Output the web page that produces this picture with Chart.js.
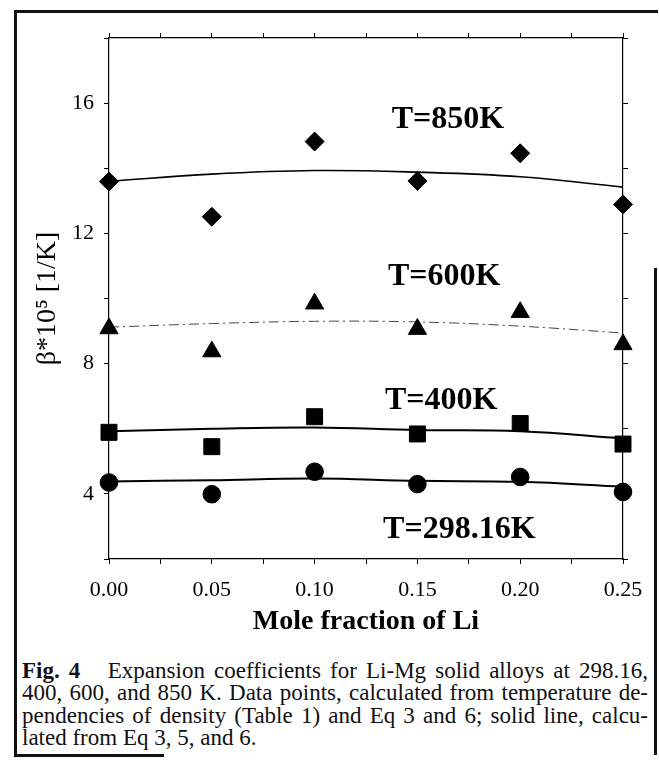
<!DOCTYPE html>
<html>
<head>
<meta charset="utf-8">
<script src="https://cdn.jsdelivr.net/npm/chart.js@4.4.1/dist/chart.umd.min.js"></script>
<style>
  body { margin: 0; background: #fff; }
  #wrap { position: relative; width: 659px; height: 761px; overflow: hidden; }
  .bar { position: absolute; background: #111; }
  #plot { position: absolute; left: 0; top: 0; }
  #caption { position: absolute; left: 22px; top: 660px; width: 626px;
    font-family: "Liberation Serif", "Times New Roman", serif; font-size: 23px; line-height: 22.3px; color: #111; }
  #caption div { white-space: nowrap; text-align: justify; text-align-last: justify; }
  #caption div.last { text-align-last: left; }
</style>
</head>
<body>
<div id="wrap">
  <div class="bar" style="left:14px; top:10px; width:644px; height:3px;"></div>
  <div class="bar" style="left:14px; top:10px; width:3px; height:745px;"></div>
  <div class="bar" style="left:654px; top:268px; width:3px; height:487px;"></div>
  <div class="bar" style="left:14px; top:754px; width:150px; height:3px;"></div>
  <canvas id="plot" width="659" height="650"></canvas>
  <div id="caption">
    <div><b>Fig. 4</b>&nbsp;&nbsp; Expansion coefficients for Li-Mg solid alloys at 298.16,</div>
    <div>400, 600, and 850 K. Data points, calculated from temperature de-</div>
    <div>pendencies of density (Table 1) and Eq 3 and 6; solid line, calcu-</div>
    <div class="last">lated from Eq 3, 5, and 6.</div>
  </div>
</div>
<script>
// mole fraction of Li
const xValues = [0.00, 0.05, 0.10, 0.15, 0.20, 0.25];

// data points and fitted curves, beta*10^5 [1/K]
const beta850Points = [13.59, 12.51, 14.82, 13.61, 14.46, 12.89];
const beta850Fit = [13.60, 13.82, 13.93, 13.88, 13.74, 13.42];
const beta600Points = [9.08, 8.37, 9.84, 9.06, 9.58, 8.59];
const beta600Fit = [9.12, 9.23, 9.30, 9.28, 9.15, 8.94];
const beta400Points = [5.89, 5.45, 6.37, 5.84, 6.16, 5.53];
const beta400Fit = [5.92, 6.00, 6.04, 5.96, 5.92, 5.70];
const beta298Points = [4.35, 3.99, 4.68, 4.30, 4.52, 4.06];
const beta298Fit = [4.38, 4.42, 4.47, 4.40, 4.37, 4.22];

const tempLabels = ["T=850K", "T=600K", "T=400K", "T=298.16K"];
const xTickLabels = ["0.00", "0.05", "0.10", "0.15", "0.20", "0.25"];
const yTickLabels = [4, 8, 12, 16];

// where the temperature labels sit (data units, left/baseline)
const labelAnchors = [[0.1375, 15.25], [0.1357, 10.41], [0.1342, 6.61], [0.1333, 2.64]];

const serif = "'Liberation Serif', 'Times New Roman', serif";

function pts(ys) {
    return xValues.map((x, i) => ({ x: x, y: ys[i] }));
}

function markers(ys, style, r) {
    return {
        data: pts(ys), showLine: false, pointStyle: style, pointRadius: r,
        pointBackgroundColor: "#000", pointBorderColor: "#000", pointBorderWidth: 1, clip: false
    };
}

function curve(ys, width, dash, color) {
    return {
        data: pts(ys), showLine: true, pointRadius: 0, borderColor: color, borderWidth: width,
        borderDash: dash, tension: 0.4, fill: false, clip: false
    };
}

const tempLabelPlugin = {
    id: "tempLabels",
    afterDatasetsDraw(chart) {
        const ctx = chart.ctx;
        const xs = chart.scales.x, ys = chart.scales.y;
        ctx.save();
        ctx.fillStyle = "#000";
        ctx.font = "bold 32px " + serif;
        ctx.textAlign = "left";
        ctx.textBaseline = "alphabetic";
        tempLabels.forEach((t, i) => {
            ctx.fillText(t, xs.getPixelForValue(labelAnchors[i][0]), ys.getPixelForValue(labelAnchors[i][1]));
        });
        ctx.restore();
    }
};

const axisBorder = { display: true, color: "#000", width: 1.2 };
const noGrid = { drawOnChartArea: false, drawTicks: true, tickLength: 5, color: "#000" };

new Chart(document.getElementById("plot"), {
    type: "scatter",
    data: {
        datasets: [
            markers(beta850Points, "rectRot", 9.5),
            curve(beta850Fit, 1.6, [], "#000"),
            markers(beta600Points, "triangle", 10.5),
            curve(beta600Fit, 1, [10, 4, 2, 4], "#444"),
            markers(beta400Points, "rect", 11.3),
            curve(beta400Fit, 2, [], "#000"),
            markers(beta298Points, "circle", 8.8),
            curve(beta298Fit, 2, [], "#000")
        ]
    },
    options: {
        responsive: false,
        animation: false,
        devicePixelRatio: 1,
        layout: { padding: 0 },
        plugins: { legend: { display: false }, tooltip: { enabled: false } },
        scales: {
            x: {
                type: "linear", position: "bottom", min: 0, max: 0.25,
                afterFit: s => { s.height = 91; },
                grid: noGrid, border: axisBorder,
                ticks: {
                    stepSize: 0.025, padding: 13, color: "#000", maxRotation: 0, autoSkip: false,
                    font: { family: serif, size: 22 },
                    callback: v => {
                        const lab = v.toFixed(2);
                        return Math.round(v * 1000) % 50 === 0 && xTickLabels.includes(lab) ? lab : "";
                    }
                },
                title: {
                    display: true, text: "Mole fraction of Li", color: "#000",
                    font: { family: serif, size: 28, weight: "bold" }, padding: { top: 0, bottom: 11 }
                }
            },
            x2: {
                type: "linear", position: "top", min: 0, max: 0.25,
                afterFit: s => { s.height = 38; },
                grid: noGrid, border: axisBorder,
                ticks: { stepSize: 0.025, display: false }
            },
            y: {
                type: "linear", position: "left", min: 2, max: 18,
                afterFit: s => { s.width = 109; },
                grid: noGrid, border: axisBorder,
                ticks: {
                    stepSize: 2, padding: 10, color: "#000", autoSkip: false,
                    font: { family: serif, size: 22 },
                    callback: v => yTickLabels.includes(v) ? String(v) : ""
                },
                title: {
                    display: true, text: "\u03b2*10\u2075 [1/K]", color: "#000",
                    font: { family: serif, size: 28 }, padding: { top: 31, bottom: 0 }
                }
            },
            y2: {
                type: "linear", position: "right", min: 2, max: 18,
                afterFit: s => { s.width = 36; },
                grid: noGrid, border: axisBorder,
                ticks: { stepSize: 2, display: false }
            }
        }
    },
    plugins: [tempLabelPlugin]
});
</script>
</body>
</html>
